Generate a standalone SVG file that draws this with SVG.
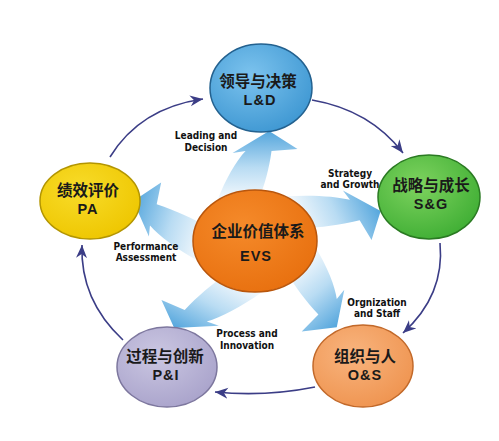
<svg xmlns="http://www.w3.org/2000/svg" xmlns:xlink="http://www.w3.org/1999/xlink" width="499" height="441" viewBox="0 0 499 441">
<style>
.cn{font-family:"Noto Sans CJK SC","Noto Sans",sans-serif;font-weight:700;font-size:15.5px;fill:#1a1a1a;text-anchor:middle}
.en{font-family:"Liberation Sans",Arial,sans-serif;font-weight:700;font-size:14.5px;fill:#1a1a1a;text-anchor:middle;letter-spacing:1px}
.lbl{font-family:"DejaVu Sans Condensed","DejaVu Sans",sans-serif;font-stretch:condensed;font-weight:700;font-size:10px;fill:#111;text-anchor:middle}
.ring{fill:none;stroke:#3b3d86;stroke-width:1.6}
.node{stroke-width:1.5}
</style>
<defs>
<marker id="ah" viewBox="-13 -6 14 12" refX="0" refY="0" markerWidth="14" markerHeight="12" markerUnits="userSpaceOnUse" orient="auto">
<path d="M0,0 L-13,-5.5 L-9,0 L-13,5.5 Z" fill="#3b3d86"/>
</marker>
<linearGradient id="bg" gradientUnits="userSpaceOnUse" x1="0" y1="-45" x2="0" y2="-108">
<stop offset="0" stop-color="#eef6fc"/>
<stop offset="0.45" stop-color="#b9dcf3"/>
<stop offset="1" stop-color="#5aa9de"/>
</linearGradient>
<path id="pw" d="M-32,-40 C-25,-62 -16,-80 -8,-90 L-19,-88 L12,-110 L36,-92 L14,-90 C12,-72 8,-56 4,-44 Z" fill="url(#bg)"/>
<radialGradient id="gLD" cx="0.4" cy="0.35" r="0.7"><stop offset="0" stop-color="#7cc3ee"/><stop offset="1" stop-color="#3e97d2"/></radialGradient>
<radialGradient id="gSG" cx="0.4" cy="0.35" r="0.7"><stop offset="0" stop-color="#7ed35f"/><stop offset="1" stop-color="#3fae34"/></radialGradient>
<radialGradient id="gPA" cx="0.4" cy="0.35" r="0.7"><stop offset="0" stop-color="#f8dc2a"/><stop offset="1" stop-color="#eec600"/></radialGradient>
<radialGradient id="gPI" cx="0.4" cy="0.35" r="0.7"><stop offset="0" stop-color="#cbc7e2"/><stop offset="1" stop-color="#a9a3cb"/></radialGradient>
<radialGradient id="gOS" cx="0.4" cy="0.35" r="0.7"><stop offset="0" stop-color="#f8b47e"/><stop offset="1" stop-color="#ef9450"/></radialGradient>
<radialGradient id="gEV" cx="0.4" cy="0.35" r="0.7"><stop offset="0" stop-color="#f58a2a"/><stop offset="1" stop-color="#e8700f"/></radialGradient>
</defs>
<rect width="499" height="441" fill="#ffffff"/>

<g id="pinwheel">
<use xlink:href="#pw" href="#pw" transform="translate(255,241) scale(1.18,1) rotate(0)"/>
<use xlink:href="#pw" href="#pw" transform="translate(255,241) scale(1.18,1) rotate(68)"/>
<use xlink:href="#pw" href="#pw" transform="translate(255,241) scale(1.18,1) rotate(135)"/>
<use xlink:href="#pw" href="#pw" transform="translate(255,241) scale(1.18,1) rotate(212)"/>
<use xlink:href="#pw" href="#pw" transform="translate(255,241) scale(1.18,1) rotate(285)"/>
</g>

<g id="connectors">
<path class="ring" d="M110,157 Q140,108 203,99" marker-end="url(#ah)"/>
<path class="ring" d="M312,100 Q370,110 403,153" marker-end="url(#ah)"/>
<path class="ring" d="M440,243 Q445,295 403,333" marker-end="url(#ah)"/>
<path class="ring" d="M315,387 Q265,397 215,392" marker-end="url(#ah)"/>
<path class="ring" d="M123,340 Q80,300 82,245" marker-end="url(#ah)"/>
</g>

<g id="labels">
<text class="lbl" x="206" y="139">Leading and</text>
<text class="lbl" x="206" y="151">Decision</text>
<text class="lbl" x="350" y="177">Strategy</text>
<text class="lbl" x="350" y="188">and Growth</text>
<text class="lbl" x="146" y="250">Performance</text>
<text class="lbl" x="146" y="261">Assessment</text>
<text class="lbl" x="377" y="306">Orgnization</text>
<text class="lbl" x="377" y="317">and Staff</text>
<text class="lbl" x="247" y="337">Process and</text>
<text class="lbl" x="247" y="349">Innovation</text>
</g>

<g id="node-evs">
<ellipse cx="255" cy="241" rx="62" ry="51" fill="url(#gEV)" stroke="#b9560c" class="node"/>
<text class="cn" x="258" y="237" font-size="18">企业价值体系</text>
<text class="en" x="256" y="261" font-size="17">EVS</text>
</g>
<g id="node-ld">
<ellipse cx="261" cy="88" rx="51" ry="44" fill="url(#gLD)" stroke="#23618f" class="node"/>
<text class="cn" x="258" y="87">领导与决策</text>
<text class="en" x="260" y="105">L&amp;D</text>
</g>
<g id="node-sg">
<ellipse cx="429" cy="197" rx="51" ry="42" fill="url(#gSG)" stroke="#2a7a22" class="node"/>
<text class="cn" x="431" y="191">战略与成长</text>
<text class="en" x="431" y="209">S&amp;G</text>
</g>
<g id="node-pa">
<ellipse cx="90" cy="201" rx="50" ry="38" fill="url(#gPA)" stroke="#b39500" class="node"/>
<text class="cn" x="88" y="196">绩效评价</text>
<text class="en" x="88" y="214">PA</text>
</g>
<g id="node-pi">
<ellipse cx="167" cy="367" rx="50" ry="40" fill="url(#gPI)" stroke="#7d779e" class="node"/>
<text class="cn" x="165" y="362">过程与创新</text>
<text class="en" x="166" y="380">P&amp;I</text>
</g>
<g id="node-os">
<ellipse cx="363" cy="366" rx="50" ry="41" fill="url(#gOS)" stroke="#c2692a" class="node"/>
<text class="cn" x="365" y="362">组织与人</text>
<text class="en" x="365" y="380">O&amp;S</text>
</g>
</svg>
